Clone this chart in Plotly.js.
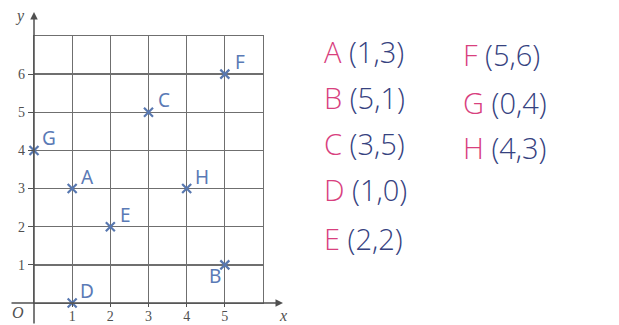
<!DOCTYPE html>
<html>
<head>
<meta charset="utf-8">
<script src="https://cdn.plot.ly/plotly-3.0.1.min.js"></script>
<style>
  html, body { margin: 0; padding: 0; background: #ffffff; }
  #chart { width: 619px; height: 325px; }
</style>
</head>
<body>
<div id="chart"></div>
<script>
// --- points plotted on the grid ---
const pointNames = ['A', 'B', 'C', 'D', 'E', 'F', 'G', 'H'];
const pointX = [1, 5, 3, 1, 2, 5, 0, 4];
const pointY = [3, 1, 5, 0, 2, 6, 4, 3];
const xTicks = [1, 2, 3, 4, 5];
const yTicks = [1, 2, 3, 4, 5, 6];

// plot box in pixels (grid spans x 0..6, y 0..7)
const L = 34, R = 263, T = 36, B = 303;
const W = 619, H = 325;
const px2x = px => (px - L) / (R - L);
const px2y = py => (B - py) / (B - T);

const gridColor = '#6f6f6f';
const axisColor = '#505050';
const markColor = '#5878b0';
const pink = '#d8407e';
const navy = '#36427f';

let annotations = [];

// axis arrows
annotations.push({
  xref: 'paper', yref: 'paper', x: px2x(283), y: 0, ax: -273, ay: 0,
  text: '', showarrow: true, arrowhead: 2, arrowsize: 1, arrowwidth: 1.5, arrowcolor: axisColor
});
annotations.push({
  xref: 'paper', yref: 'paper', x: 0, y: px2y(12), ax: 0, ay: 313,
  text: '', showarrow: true, arrowhead: 2, arrowsize: 1, arrowwidth: 1.5, arrowcolor: axisColor
});

// axis letters
let serifItalic = { family: 'Liberation Serif, serif', size: 16, color: axisColor, style: 'italic' };
let axisLetters = [['y', 20, 16], ['O', 18, 312], ['x', 283, 315]];
axisLetters.forEach(([t, px, py]) => {
  annotations.push({
    xref: 'paper', yref: 'paper', x: px2x(px), y: px2y(py),
    xanchor: 'center', yanchor: 'middle', text: t, showarrow: false, font: serifItalic
  });
});

// point labels next to the crosses
for (let i = 0; i < pointNames.length; i++) {
  let below = pointNames[i] === 'B';
  annotations.push({
    xref: 'x', yref: 'y', x: pointX[i], y: pointY[i],
    text: pointNames[i], showarrow: false,
    xshift: below ? -10 : 15, yshift: below ? -11 : 12,
    font: { family: 'Noto Sans, sans-serif', size: 19, color: '#5a7ab6' }
  });
}

// handwritten list of coordinates on the right
const colX = [322, 461];
const rowY = [[51, 97, 143, 189, 238], [54, 102, 147]];
for (let i = 0; i < pointNames.length; i++) {
  let col = i < 5 ? 0 : 1;
  let row = i < 5 ? i : i - 5;
  annotations.push({
    xref: 'paper', yref: 'paper', xanchor: 'left', yanchor: 'middle',
    x: px2x(colX[col]), y: px2y(rowY[col][row]),
    text: `<span style="color:${pink}">${pointNames[i]}</span> (${pointX[i]},${pointY[i]})`,
    showarrow: false,
    font: { family: 'Open Sans, sans-serif', size: 29, color: navy, weight: 300 }
  });
}

let trace = {
  x: pointX, y: pointY, type: 'scatter', mode: 'markers',
  cliponaxis: false, hoverinfo: 'skip',
  marker: { symbol: 'x-thin', size: 9, color: markColor, line: { width: 2.2, color: markColor } }
};

let tickFont = { family: 'Liberation Serif, serif', size: 14, color: axisColor };

Plotly.newPlot('chart', [trace], {
  width: W, height: H,
  margin: { l: L, r: W - R, t: T, b: H - B, pad: 0 },
  paper_bgcolor: '#ffffff', plot_bgcolor: '#ffffff',
  showlegend: false,
  xaxis: {
    range: [0, 6], tickvals: xTicks, ticktext: xTicks.map(String),
    showgrid: true, gridcolor: gridColor, gridwidth: 1.3,
    showline: true, mirror: true, linecolor: gridColor, linewidth: 1.3,
    zeroline: false, ticks: 'outside', ticklen: 3, tickcolor: axisColor,
    ticklabelstandoff: -3,
    tickfont: tickFont, fixedrange: true
  },
  yaxis: {
    range: [0, 7], tickvals: yTicks, ticktext: yTicks.map(String),
    showgrid: true, gridcolor: gridColor, gridwidth: 1.3,
    showline: true, mirror: true, linecolor: gridColor, linewidth: 1.3,
    zeroline: false, ticks: 'outside', ticklen: 5, tickcolor: axisColor,
    tickfont: tickFont, fixedrange: true
  },
  annotations: annotations
}, { staticPlot: true, displayModeBar: false });
</script>
</body>
</html>
